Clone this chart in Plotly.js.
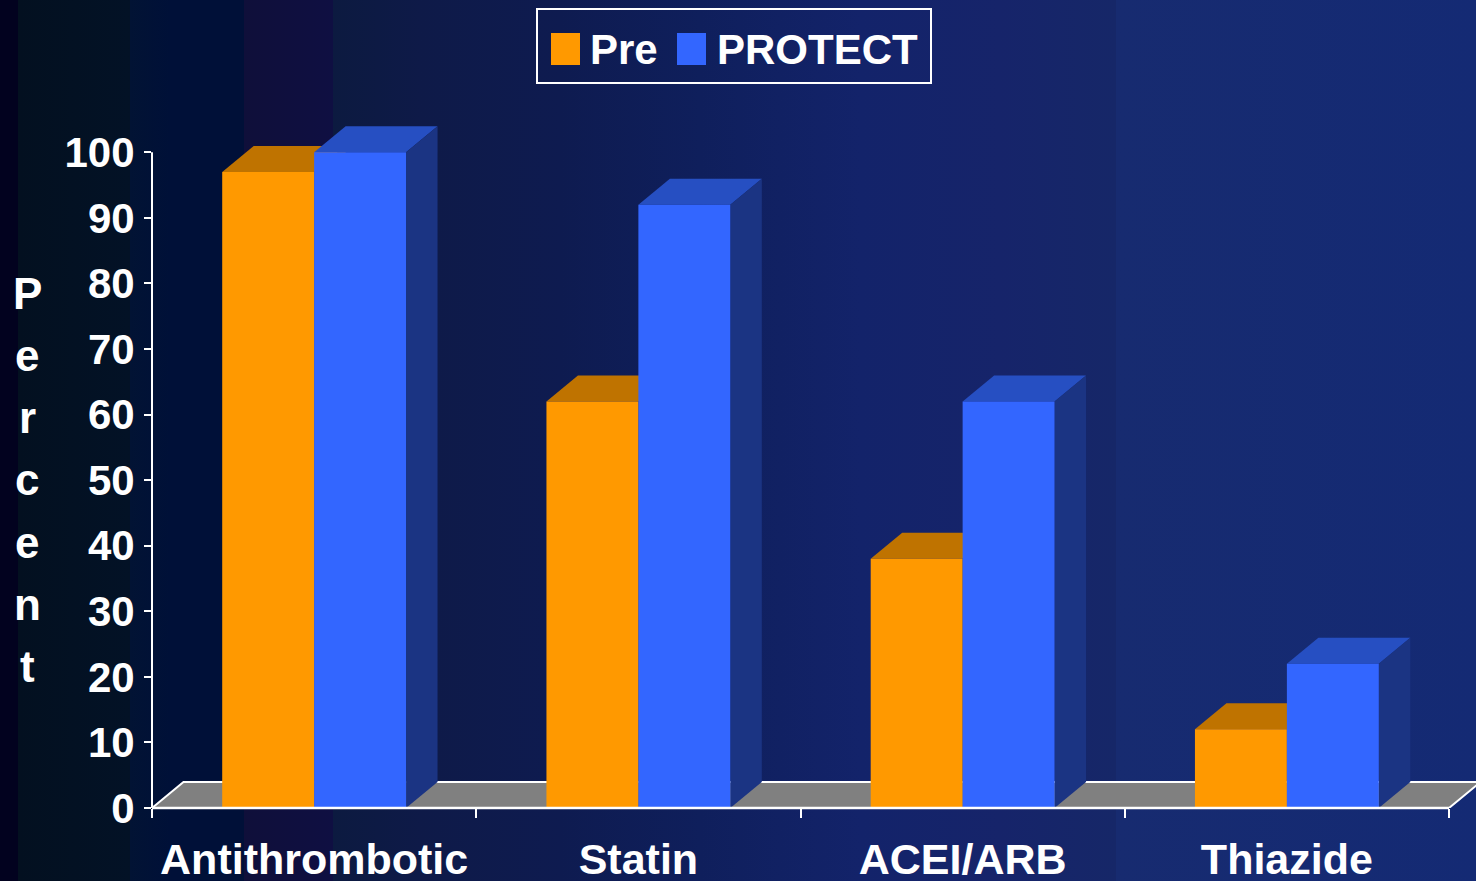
<!DOCTYPE html>
<html>
<head>
<meta charset="utf-8">
<script src="https://cdn.plot.ly/plotly-3.0.1.min.js"></script>
<style>
  html, body { margin: 0; padding: 0; }
  body {
    width: 1476px; height: 881px; overflow: hidden;
    background: linear-gradient(90deg,
      #02021f 0px, #02021f 18px,
      #031020 18px, #031226 130px,
      #021334 130px, #001038 170px, #001038 244px,
      #0f0f3a 244px, #0f0f42 333px,
      #0c1a40 333px, #0e1a48 420px, #0e1b50 560px, #0f1f5c 700px,
      #13236a 860px, #16246a 1000px, #162768 1116px,
      #172b70 1116px, #142a74 1476px);
  }
  #chart { position: absolute; left: 0; top: 0; width: 1476px; height: 881px; }
</style>
</head>
<body>
<div id="chart"></div>
<script>
// ---------------- data ----------------
const categories = ['Antithrombotic', 'Statin', 'ACEI/ARB', 'Thiazide'];
const seriesNames = ['Pre', 'PROTECT'];
const preValues = [97, 62, 38, 12];
const protectValues = [100, 92, 62, 22];
const yTickVals = [0, 10, 20, 30, 40, 50, 60, 70, 80, 90, 100];

// ---------------- style ----------------
const W = 1476, H = 881;
const M = { l: 152, r: 0, t: 113, b: 73 };
const plotW = W - M.l - M.r, plotH = H - M.t - M.b;
const xRange = [-0.5, 3.5 + 27 / 324.25];
const yRange = [0, 106];
const BARGAP = 0.433;
const barW = (1 - BARGAP) / 2;
const DX = 31.5 / 324.25;   // depth offset in x units
const DY = 26 / (plotH / (yRange[1] - yRange[0])); // depth offset in y units

const FONT = 'Liberation Sans, Arial, Helvetica, sans-serif';
const colPreFront = '#FF9900', colPreTop = '#BF7300', colPreSide = '#8A5300';
const colProFront = '#3366FF', colProTop = '#264FC2', colProSide = '#1B3483';
const floorCol = '#808080';

const xs = categories.map((c, i) => i);

function px2paperX(px) { return (px - M.l) / plotW; }
function px2paperY(py) { return (M.t + plotH - py) / plotH; }

function poly(pts) {
  return 'M' + pts.map(p => p[0] + ',' + p[1]).join(' L') + ' Z';
}

const shapes = [];
// floor (3D base)
const fx0 = -0.5, fx1 = 3.5;
shapes.push({
  type: 'path', xref: 'x', yref: 'y', layer: 'below',
  path: poly([[fx0, 0], [fx1, 0], [fx1 + DX, DY], [fx0 + DX, DY]]),
  fillcolor: floorCol, line: { color: '#FFFFFF', width: 2 }
});

// 3D faces for bars, computed from data
function addFaces(values, xOffsetLeft, topCol, sideCol) {
  values.forEach((v, i) => {
    const xl = xs[i] + xOffsetLeft, xr = xl + barW;
    shapes.push({
      type: 'path', xref: 'x', yref: 'y', layer: 'below',
      path: poly([[xl, v], [xr, v], [xr + DX, v + DY], [xl + DX, v + DY]]),
      fillcolor: topCol, line: { width: 0 }
    });
    shapes.push({
      type: 'path', xref: 'x', yref: 'y', layer: 'below',
      path: poly([[xr, 0], [xr + DX, DY], [xr + DX, v + DY], [xr, v]]),
      fillcolor: sideCol, line: { width: 0 }
    });
  });
}
addFaces(preValues, -barW, colPreTop, colPreSide);
addFaces(protectValues, 0, colProTop, colProSide);

// axis lines
shapes.push({ type: 'line', xref: 'x', yref: 'paper', x0: -0.5, x1: 3.5, y0: 0, y1: 0,
  line: { color: '#FFFFFF', width: 2.5 }, layer: 'above' });
shapes.push({ type: 'line', xref: 'paper', yref: 'y', x0: 0, x1: 0, y0: 0, y1: 100,
  line: { color: '#FFFFFF', width: 2 }, layer: 'above' });

// manual legend
const legendBox = { x0: 537, x1: 931, y0: 9, y1: 83 };
shapes.push({ type: 'rect', xref: 'paper', yref: 'paper',
  x0: px2paperX(legendBox.x0), x1: px2paperX(legendBox.x1),
  y0: px2paperY(legendBox.y1), y1: px2paperY(legendBox.y0),
  line: { color: '#FFFFFF', width: 2 }, fillcolor: 'rgba(0,0,0,0)' });
const legendItems = [
  { name: seriesNames[0], color: colPreFront, sx: 551, tx: 588 },
  { name: seriesNames[1], color: colProFront, sx: 677, tx: 715 }
];
const annotations = [];
legendItems.forEach(it => {
  shapes.push({ type: 'rect', xref: 'paper', yref: 'paper',
    x0: px2paperX(it.sx), x1: px2paperX(it.sx + 29),
    y0: px2paperY(65), y1: px2paperY(33),
    fillcolor: it.color, line: { width: 0 } });
  annotations.push({ xref: 'paper', yref: 'paper', x: px2paperX(it.tx), y: px2paperY(49),
    xanchor: 'left', yanchor: 'middle', showarrow: false, text: it.name,
    font: { family: FONT, size: 42, color: '#FFFFFF', weight: 'bold' } });
});

// vertical "Percent" title
const titleLetters = 'Percent'.split('');
titleLetters.forEach((ch, k) => {
  annotations.push({ xref: 'paper', yref: 'paper', x: px2paperX(27), y: px2paperY(293 + k * 62.3),
    xanchor: 'center', yanchor: 'middle', showarrow: false, text: ch,
    font: { family: FONT, size: 44, color: '#FFFFFF', weight: 'bold' } });
});

const traces = [
  { type: 'bar', name: seriesNames[0], x: xs, y: preValues,
    marker: { color: colPreFront, line: { width: 0 } }, hoverinfo: 'skip', showlegend: false },
  { type: 'bar', name: seriesNames[1], x: xs, y: protectValues,
    marker: { color: colProFront, line: { width: 0 } }, hoverinfo: 'skip', showlegend: false }
];

const layout = {
  width: W, height: H,
  margin: M,
  paper_bgcolor: 'rgba(0,0,0,0)',
  plot_bgcolor: 'rgba(0,0,0,0)',
  barmode: 'group', bargap: BARGAP, bargroupgap: 0,
  showlegend: false,
  xaxis: {
    range: xRange, tickmode: 'array', tickvals: xs, ticktext: categories,
    ticks: '', showgrid: false, zeroline: false, showline: false,
    ticklabelstandoff: 22,
    tickfont: { family: FONT, size: 43, color: '#FFFFFF', weight: 'bold' },
    minor: { tickmode: 'array', tickvals: [-0.5, 0.5, 1.5, 2.5, 3.5], ticks: 'outside',
      ticklen: 9, tickwidth: 2, tickcolor: '#FFFFFF', showgrid: false },
    fixedrange: true
  },
  yaxis: {
    range: yRange, tickmode: 'array', tickvals: yTickVals,
    ticks: 'outside', ticklen: 7, tickwidth: 2, tickcolor: '#FFFFFF',
    showgrid: false, zeroline: false, showline: false,
    ticklabelstandoff: 1,
    tickfont: { family: FONT, size: 42, color: '#FFFFFF', weight: 'bold' },
    fixedrange: true
  },
  shapes: shapes,
  annotations: annotations
};

Plotly.newPlot('chart', traces, layout, { displayModeBar: false, staticPlot: true });
</script>
</body>
</html>
